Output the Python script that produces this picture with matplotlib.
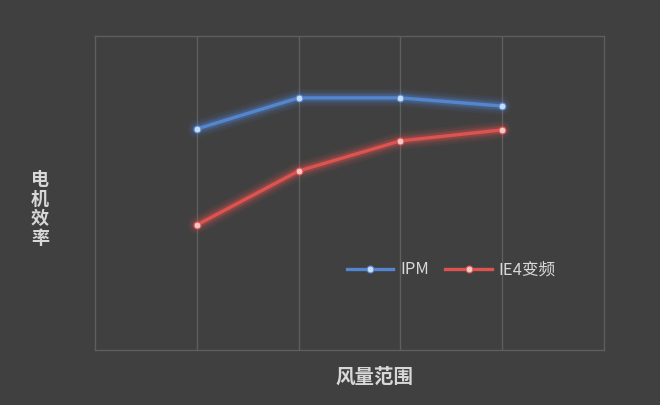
import matplotlib
matplotlib.use("Agg")
import matplotlib.pyplot as plt

plt.rcParams['font.family'] = ['Noto Sans CJK SC', 'DejaVu Sans']

# data (no y scale shown, arbitrary 0-100)
x_pos = [1, 2, 3, 4]
ipm = [70.4, 80.3, 80.3, 77.7]
ie4 = [39.8, 57.0, 66.6, 70.1]
series_names = ['IPM', 'IE4变频']

bg = '#404040'
grid_col = '#5e5e5e'
text_col = '#d8d8d8'
blue = '#5486d0'
red = '#dc5350'

fig = plt.figure(figsize=(6.6, 4.05), dpi=100, facecolor=bg)
ax = fig.add_axes([0.144, 0.136, 0.771, 0.775], facecolor=bg)

for vals, col, name in [(ipm, blue, series_names[0]), (ie4, red, series_names[1])]:
    # soft glow under the line
    for lw, a in [(13, 0.07), (10, 0.10), (7, 0.16), (5, 0.22)]:
        ax.plot(x_pos, vals, color=col, lw=lw, alpha=a, solid_capstyle='round', zorder=2)
    ax.plot(x_pos, vals, color=col, lw=2.4, marker='o', markersize=5,
            markerfacecolor='#f0c8c8' if col == red else '#c8dcf5',
            markeredgecolor=col, markeredgewidth=0.8, label=name, zorder=3)

ax.set_xlim(0, 5)
ax.set_ylim(0, 100)
ax.set_xticks([1, 2, 3, 4])
ax.set_yticks([])
ax.tick_params(axis='x', length=0, labelbottom=False)
ax.grid(axis='x', color=grid_col, lw=1)
for s in ax.spines.values():
    s.set_color(grid_col)
    s.set_linewidth(1)

leg = ax.legend(loc='center', bbox_to_anchor=(0.70, 0.255), ncol=2, frameon=False,
                fontsize=12, labelcolor=text_col, handlelength=2.8, columnspacing=1.0,
                handletextpad=0.4)

fig.text(40 / 660, 1 - 209 / 405, '电\n机\n效\n率', color=text_col, fontsize=13,
         fontweight='bold', ha='center', va='center', linespacing=1.05)
fig.text(374 / 660, 1 - 377 / 405, '风量范围', color=text_col, fontsize=14,
         fontweight='bold', ha='center', va='center')

fig.savefig('out.png', dpi=100, facecolor=bg)
